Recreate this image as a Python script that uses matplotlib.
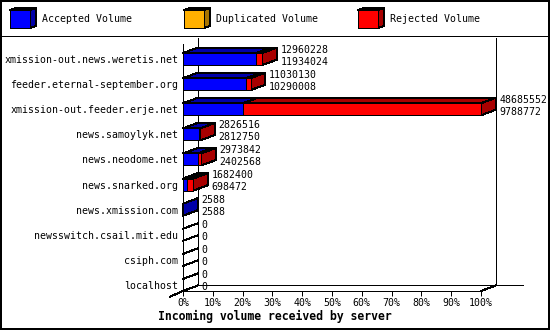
import matplotlib
matplotlib.use("Agg")
import matplotlib.pyplot as plt
import numpy as np
from matplotlib.patches import Polygon, Rectangle
from matplotlib.lines import Line2D

servers = ["xmission-out.news.weretis.net", "feeder.eternal-september.org",
           "xmission-out.feeder.erje.net", "news.samoylyk.net", "news.neodome.net",
           "news.snarked.org", "news.xmission.com", "newsswitch.csail.mit.edu",
           "csiph.com", "localhost"]
total = np.array([12960228, 11030130, 48685552, 2826516, 2973842,
                  1682400, 2588, 0, 0, 0])
accepted = np.array([11934024, 10290008, 9788772, 2812750, 2402568,
                     698472, 2588, 0, 0, 0])
duplicated = np.zeros(len(servers), dtype=int)
rejected = total - accepted - duplicated

series = ["Accepted Volume", "Duplicated Volume", "Rejected Volume"]
colors = ["#0000ff", "#ffb000", "#ff0000"]
shades = ["#0000a8", "#a87400", "#a80000"]
ticks = list(range(0, 101, 10))

plt.rcParams["font.family"] = ["DejaVu Sans Mono"]
plt.rcParams["font.size"] = 7.1

W, Hpx = 550, 330
fig = plt.figure(figsize=(W / 100, Hpx / 100), dpi=100)

# depth of the fake 3d and half bar height (data units)
DX, DY, H = 5.0, 0.22, 0.24
TOP, FLOOR = -0.6, len(servers) - 1 + H
LW = 0.72

ax = fig.add_axes([183 / W, 39 / Hpx, 298 / W, 247 / Hpx])
ax.set_xlim(0, 100)
ax.set_ylim(FLOOR, TOP)
ax.spines["top"].set_visible(False)
ax.spines["right"].set_visible(False)
for s in ("left", "bottom"):
    ax.spines[s].set_linewidth(LW)
ax.set_xticks(ticks)
ax.set_xticklabels([f"{t}%" for t in ticks])
ax.set_yticks(range(len(servers)))
ax.set_yticklabels(servers)
ax.tick_params(axis="x", length=3.6, width=LW, pad=1.2)
ax.tick_params(axis="y", length=0, pad=3.5)
ax.patch.set_visible(False)


def pct(v):
    return v * 100.0 / total.max()


def line(xs, ys):
    ax.plot(xs, ys, color="black", lw=LW, clip_on=False, antialiased=False, zorder=2)


# back wall and floor
line([DX, DX], [TOP - DY, FLOOR - DY])
line([100 + DX, 100 + DX], [TOP - DY, FLOOR - DY])
line([DX, 114], [FLOOR - DY, FLOOR - DY])
line([100, 100 + DX], [FLOOR, FLOOR - DY])
line([0, -DX * 0.85], [FLOOR, FLOOR + DY])


def box(x0, w, yc, face, shade, z):
    yt, yb = yc - H, yc + H
    kw = dict(ec="black", lw=LW, clip_on=False, antialiased=False, zorder=z)
    ax.add_patch(Polygon([(x0, yt), (x0 + w, yt), (x0 + w + DX, yt - DY), (x0 + DX, yt - DY)],
                         fc=shade, **kw))
    ax.add_patch(Polygon([(x0 + w, yt), (x0 + w + DX, yt - DY), (x0 + w + DX, yb - DY), (x0 + w, yb)],
                         fc=shade, **kw))
    ax.add_patch(Rectangle((x0, yt), w, 2 * H, fc=face, **kw))


for i in range(len(servers)):
    vals = [accepted[i], duplicated[i], rejected[i]]
    if total[i] == 0:
        line([0, DX], [i - H, i - H - DY])
        line([0, DX], [i + H, i + H - DY])
    start = 0.0
    for k, v in enumerate(vals):
        if v > 0:
            box(start, pct(v), i, colors[k], shades[k], 3 + k)
            start += pct(v)
    tx = pct(total[i]) + DX + 1.2
    ax.text(tx, i - H - DY + 0.08, str(total[i]), va="center", ha="left")
    ax.text(tx, i - H - DY + 0.56, str(accepted[i]), va="center", ha="left")


# legend, drawn in pixel units from the top-left corner
def fx(x):
    return x / W


def fy(y):
    return 1 - y / Hpx


for k, name in enumerate(series):
    x0 = 10 + 174 * k
    kw = dict(ec="black", lw=LW, transform=fig.transFigure, antialiased=False)
    fig.add_artist(Polygon([(fx(x0), fy(10)), (fx(x0 + 20), fy(10)), (fx(x0 + 26), fy(8)),
                            (fx(x0 + 6), fy(8))], fc=shades[k], **kw))
    fig.add_artist(Polygon([(fx(x0 + 20), fy(10)), (fx(x0 + 26), fy(8)), (fx(x0 + 26), fy(26)),
                            (fx(x0 + 20), fy(28))], fc=shades[k], **kw))
    fig.add_artist(Polygon([(fx(x0), fy(10)), (fx(x0 + 20), fy(10)), (fx(x0 + 20), fy(28)),
                            (fx(x0), fy(28))], fc=colors[k], **kw))
    fig.text(fx(x0 + 32), fy(19.5), name, ha="left", va="center")

# frame and separator
fig.add_artist(Rectangle((0, 0), 1, 1, fill=False, ec="black", lw=1.6,
                         transform=fig.transFigure, antialiased=False))
fig.add_artist(Line2D([0, 1], [fy(35.5), fy(35.5)], color="black", lw=LW,
                      transform=fig.transFigure, antialiased=False))

fig.text(fx(275), fy(316), "Incoming volume received by server", ha="center", va="center",
         fontweight="bold", fontsize=8.3)

fig.savefig("out.png", dpi=100)
